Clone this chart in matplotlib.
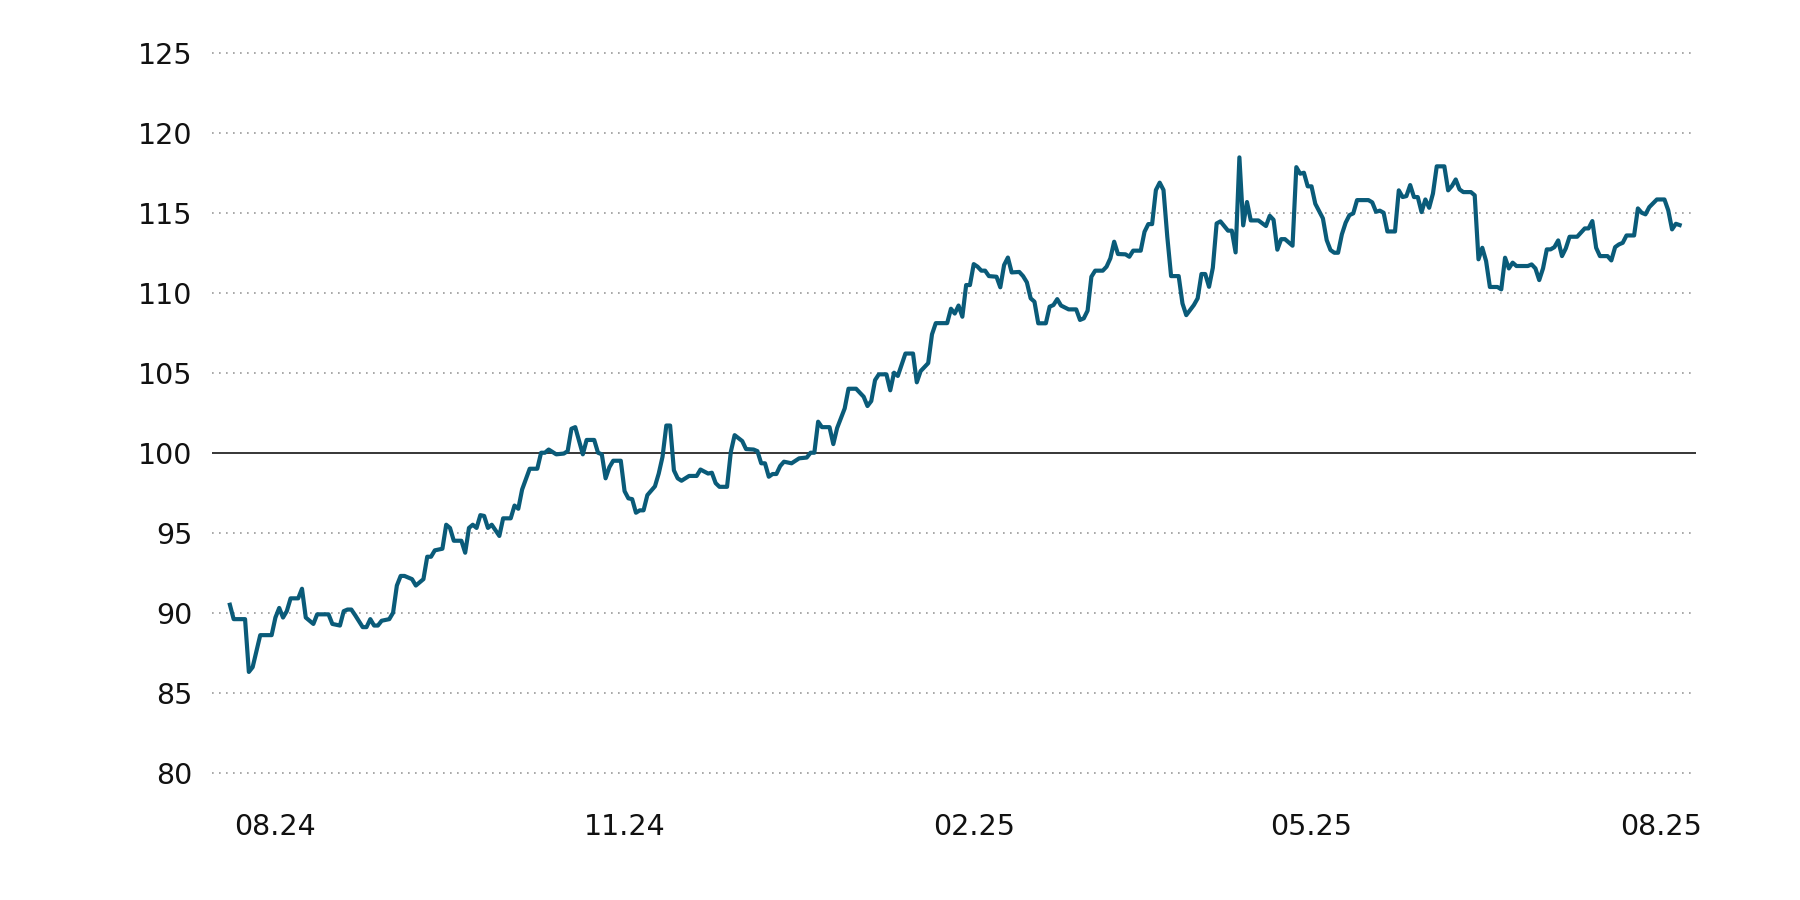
import pandas as pd
import matplotlib
matplotlib.use("Agg")
from matplotlib import pyplot as plt

# === DATI ===
# giorni dopo il 1 agosto 2024, valore dell'indice
start = pd.Timestamp("2024-08-01")

day = [
    -12, -11, -8, -7, -6, -5, -4, -1, 0, 1, 2, 3, 4, 6, 7, 8,
    10, 11, 14, 15, 17, 18, 19, 20, 21, 23, 24, 25, 26, 27, 28, 30, 31, 32, 33, 34,
    36, 37, 39, 40, 41, 42, 44, 45, 46, 47, 49, 50, 51, 52, 53, 54,
    55, 56, 57, 59, 60, 62, 63, 64, 65, 67, 69, 70, 71, 72, 74, 76, 77, 78, 79,
    81, 82, 84, 85, 86, 87, 88, 89, 91, 92, 93, 94, 95, 96, 97, 98, 100, 101, 102,
    103, 104, 105, 106, 107, 109, 111, 112, 114, 115, 116, 117,
    119, 120, 121, 123, 124, 126, 127, 128, 129, 130, 131, 132, 133, 134, 136, 138,
    140, 141, 142, 143, 144, 146, 147, 148, 150, 151, 153, 155, 156, 157, 158,
    159, 161, 162, 163, 164, 166, 168, 169, 170, 172, 173, 174,
    177, 178, 179, 180, 181, 182, 183, 184, 185, 186, 187, 188, 190, 191, 192, 193,
    194, 196, 197, 198, 199, 200, 201, 203, 204, 205, 206, 207, 209, 211, 212, 213,
    214, 215, 216, 218, 219, 220, 221, 222, 224, 225, 226, 228, 229, 230, 231, 232,
    233, 234, 235, 236, 238, 239, 240, 242, 243, 244, 245, 246, 247, 248, 249, 251,
    252, 253, 254, 255, 256, 257, 259, 261, 262, 263, 264, 265, 266, 268, 269, 270,
    271, 272, 273, 274, 276, 277, 278, 279, 280, 281, 282, 283, 284, 285, 288, 289,
    290, 291, 292, 293, 295, 296, 297, 298, 299, 300, 301, 302, 303, 304, 305, 306,
    308, 309, 310, 311, 312, 313, 315, 316, 317, 318, 319, 320, 322, 323, 324, 325,
    326, 327, 330, 331, 332, 333, 334, 335, 336, 337, 338, 339, 340, 341, 343,
    345, 346, 347, 348, 349, 351, 352, 353, 354, 355, 356, 358, 359, 360, 361, 362,
    364, 366, 367, 368, 369, 370,
]

value = [
    90.5, 89.6, 89.6, 86.3, 86.6, 87.6, 88.6, 88.6, 89.7, 90.3, 89.7, 90.1, 90.9, 90.9, 91.5, 89.7,
    89.3, 89.9, 89.9, 89.3, 89.2, 90.1, 90.2, 90.2, 89.85, 89.1, 89.1, 89.6, 89.2, 89.2, 89.5, 89.6, 90.0, 91.7, 92.3, 92.3,
    92.1, 91.7, 92.1, 93.5, 93.5, 93.9, 94.0, 95.5, 95.3, 94.5, 94.5, 93.75, 95.3, 95.5, 95.3, 96.1,
    96.05, 95.3, 95.5, 94.8, 95.9, 95.9, 96.7, 96.5, 97.7, 99.0, 99.0, 100.0, 100.0, 100.2, 99.9, 99.95, 100.1, 101.5, 101.6,
    99.9, 100.8, 100.8, 100.0, 99.9, 98.4, 99.1, 99.5, 99.5, 97.6, 97.15, 97.1, 96.25, 96.4, 96.4, 97.35, 97.9, 98.7, 99.75,
    101.7, 101.7, 98.9, 98.4, 98.25, 98.55, 98.55, 98.95, 98.7, 98.75, 98.1, 97.87,
    97.87, 100.06, 101.1, 100.73, 100.23, 100.2, 100.1, 99.34, 99.34, 98.5, 98.67, 98.67, 99.17, 99.44, 99.34, 99.65,
    99.7, 100.0, 100.0, 101.94, 101.6, 101.6, 100.54, 101.54, 102.77, 104.0, 104.0, 103.5, 102.92, 103.23, 104.54,
    104.9, 104.9, 103.9, 105.0, 104.8, 106.2, 106.2, 104.4, 105.1, 105.6, 107.4, 108.1,
    108.1, 109.0, 108.7, 109.2, 108.5, 110.48, 110.48, 111.79, 111.63, 111.38, 111.38, 111.04, 111.0, 110.34, 111.73, 112.2,
    111.27, 111.3, 111.04, 110.65, 109.65, 109.44, 108.09, 108.09, 109.13, 109.23, 109.6, 109.2, 108.96, 108.96, 108.3, 108.4,
    108.88, 111.0, 111.38, 111.38, 111.63, 112.15, 113.19, 112.42, 112.4, 112.25, 112.63, 112.63, 113.81, 114.29, 114.29, 116.42,
    116.88, 116.42, 113.5, 111.04, 111.04, 109.33, 108.6, 109.23, 109.65, 111.17, 111.17, 110.37, 111.56, 114.33, 114.46, 113.88,
    113.88, 112.52, 118.46, 114.21, 115.67, 114.52, 114.52, 114.17, 114.81, 114.56, 112.69, 113.35, 113.35, 112.94, 117.85, 117.44,
    117.5, 116.65, 116.65, 115.56, 114.65, 113.29, 112.67, 112.5, 112.5, 113.65, 114.38, 114.85, 114.96, 115.79, 115.79, 115.65,
    115.06, 115.13, 115.0, 113.83, 113.83, 116.4, 115.98, 116.04, 116.73, 115.98, 115.98, 115.04, 115.83, 115.31, 116.2, 117.9,
    117.9, 116.4, 116.67, 117.08, 116.46, 116.29, 116.29, 116.09, 112.09, 112.81, 111.98, 110.36, 110.36, 110.21, 112.19, 111.52,
    111.88, 111.67, 111.67, 111.77, 111.52, 110.79, 111.52, 112.71, 112.71, 112.85, 113.27, 112.29, 112.77, 113.5, 113.5,
    114.02, 114.02, 114.48, 112.81, 112.29, 112.29, 112.02, 112.85, 113.02, 113.12, 113.58, 113.58, 115.27, 115.0, 114.9, 115.35,
    115.83, 115.83, 115.15, 113.96, 114.31, 114.23,
]

y_ticks = [80, 85, 90, 95, 100, 105, 110, 115, 120, 125]
x_tick_dates = ["2024-08-01", "2024-11-01", "2025-02-01", "2025-05-01", "2025-08-01"]
x_tick_labels = ["08.24", "11.24", "02.25", "05.25", "08.25"]

dates = start + pd.to_timedelta(day, unit="D")

# === GRAFICO ===
fig = plt.figure(figsize=(18, 9), dpi=100)
ax = fig.add_axes([0.1178, 0.1414, 0.8244, 0.8])

for yv in y_ticks:
    if yv == 100:
        continue
    ax.axhline(yv, color="#9a9a9a", lw=1.2, ls=(0, (1, 3.2)), clip_on=False, zorder=1)
ax.axhline(100, color="black", lw=1.1, zorder=2)

ax.plot(dates, value, color="#0a5b79", lw=3.0, solid_joinstyle="round", zorder=3)

ax.set_ylim(80, 125)
ax.set_xlim(start + pd.Timedelta(days=-16.7), start + pd.Timedelta(days=374.3))
ax.set_yticks(y_ticks)
ax.set_xticks(pd.to_datetime(x_tick_dates))
ax.set_xticklabels(x_tick_labels)
ax.tick_params(axis="both", length=0, labelsize=20.5, colors="#111111")
ax.tick_params(axis="y", pad=14)
ax.tick_params(axis="x", pad=29)
for s in ax.spines.values():
    s.set_visible(False)

fig.savefig("out.png", dpi=100)
